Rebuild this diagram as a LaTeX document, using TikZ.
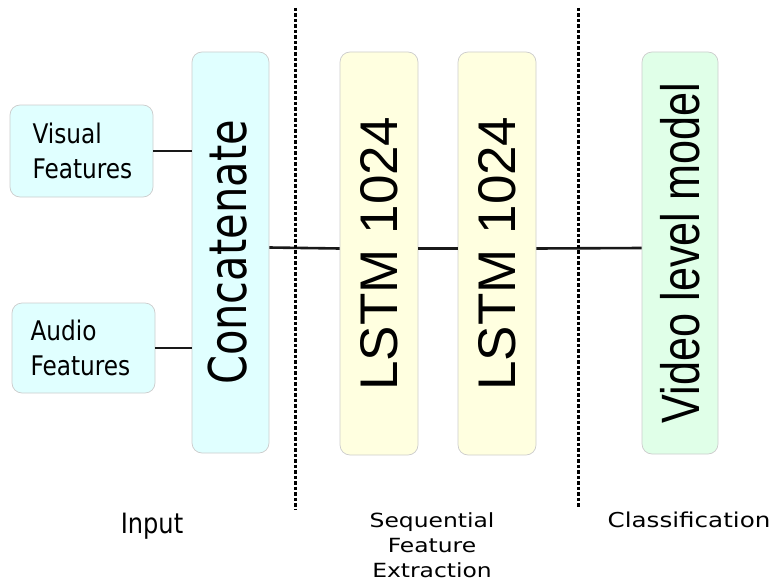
\documentclass[tikz,border=0pt]{standalone}
\usepackage{fontspec}
\setmainfont{DejaVu Sans}
\newfontfamily\boxfont[FakeStretch=0.86]{DejaVu Sans}
\newfontfamily\catfont[FakeStretch=0.8]{DejaVu Sans}
\newfontfamily\layerfont{Liberation Sans}
\newfontfamily\modelfont[FakeStretch=0.8]{Liberation Sans}
\newfontfamily\stagefont[FakeStretch=1.2]{DejaVu Sans}
\definecolor{inputfill}{HTML}{E0FFFF}
\definecolor{lstmfill}{HTML}{FFFFE0}
\definecolor{modelfill}{HTML}{E0FFE8}

\begin{document}
\begin{tikzpicture}[x=1pt, y=-1pt,
	block/.style={draw=black!20, line width=0.7pt, rounded corners=10pt, inner sep=0pt},
	wire/.style={line width=2.6pt, draw=black!90},
	divider/.style={line width=3pt, dash pattern=on 3.5pt off 2pt},
	vtext/.style={rotate=90, inner sep=0pt}]
	\useasboundingbox (0, 0) rectangle (775, 586);
	% Blocks:
	\node[block, fill=inputfill, minimum width=143pt, minimum height=92pt, align=left, text width=98pt, font=\boxfont\fontsize{27}{35}\selectfont] (vis) at (81.5, 151) {Visual\\Features};
	\node[block, fill=inputfill, minimum width=143pt, minimum height=90pt, align=left, text width=106pt, font=\boxfont\fontsize{27}{35}\selectfont] (aud) at (83.5, 348) {Audio\\Features};
	\node[block, fill=inputfill, minimum width=77pt, minimum height=401pt] (cat) at (230.5, 252.5) {};
	\node[block, fill=lstmfill, minimum width=78pt, minimum height=403pt] (l1) at (379, 253.5) {};
	\node[block, fill=lstmfill, minimum width=78pt, minimum height=403pt] (l2) at (497, 253.5) {};
	\node[block, fill=modelfill, minimum width=76pt, minimum height=402pt] (vid) at (680, 253) {};
	\node[vtext, font=\catfont\fontsize{52}{60}\selectfont] (cat-t) at ([xshift=-3pt]cat.center) {Concatenate};
	\node[vtext, font=\layerfont\fontsize{53}{60}\selectfont] (l1-t) at (l1.center) {LSTM 1024};
	\node[vtext, font=\layerfont\fontsize{53}{60}\selectfont] (l2-t) at (l2.center) {LSTM 1024};
	\node[vtext, font=\modelfont\fontsize{54}{60}\selectfont] (vid-t) at (vid.center) {Video level model};
	% Wires:
	\draw[wire] (vis.east) -- (vis.east -| cat.west);
	\draw[wire] (aud.east) -- (aud.east -| cat.west);
	\draw[wire] ([yshift=5pt]cat.east) -- ([yshift=5pt]l1.west);
	\draw[wire] ([yshift=5pt]l1.east) -- ([yshift=5pt]l2.west);
	\draw[wire] ([yshift=5pt]l2.east) -- ([yshift=5pt]vid.west);
	% Stage dividers and captions:
	\coordinate (d1-top) at (295, 8);
	\coordinate (d1-bot) at (295, 510);
	\coordinate (d2-top) at (578, 8);
	\coordinate (d2-bot) at (578, 507);
	\draw[divider] (d1-top) -- (d1-bot);
	\draw[divider] (d2-top) -- (d2-bot);
	\node[font=\boxfont\fontsize{28}{36}\selectfont, anchor=base] (inp) at (152, 533) {Input};
	\node[font=\stagefont\fontsize{19.5}{25}\selectfont, align=center, inner sep=0pt] (seq) at (432, 545) {Sequential\\Feature\\Extraction};
	\node[font=\stagefont\fontsize{20.5}{25}\selectfont, anchor=base, inner sep=0pt] (cls) at (689, 527) {Classification};
\end{tikzpicture}
\end{document}
